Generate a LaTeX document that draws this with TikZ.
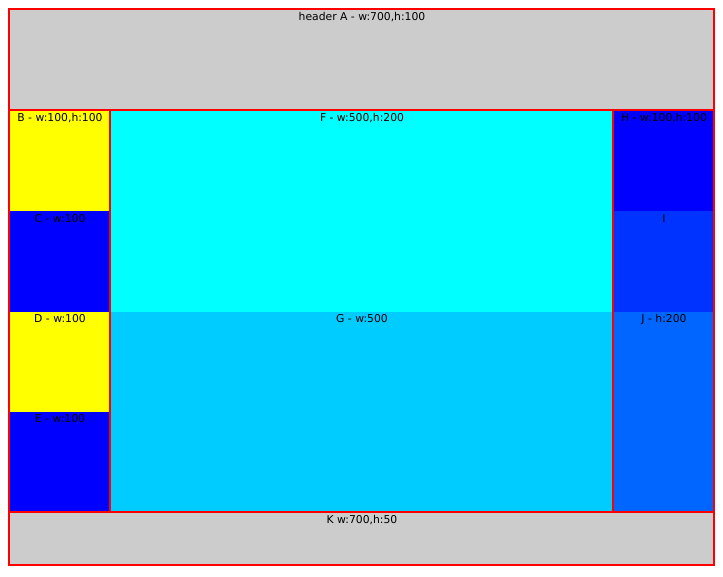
\documentclass[tikz,border=0pt]{standalone}
\usepackage{fontspec}
\setmainfont{DejaVu Sans}
\definecolor{gA}{HTML}{CCCCCC}
\definecolor{yel}{HTML}{FFFF00}
\definecolor{blu}{HTML}{0000FF}
\definecolor{cya}{HTML}{00FFFF}
\definecolor{gcol}{HTML}{00CCFF}
\definecolor{icol}{HTML}{0033FF}
\definecolor{jcol}{HTML}{0066FF}
\definecolor{bord}{HTML}{FF0000}
\begin{document}
\begin{tikzpicture}[x=1pt,y=-1pt,
  lbl/.style={anchor=north,inner sep=0pt,font=\fontsize{10.8}{12}\selectfont,text=black},
  outline/.style={draw=bord,line width=2pt}]
\useasboundingbox[fill=white] (0,0) rectangle (723,576);
% fills
\fill[gA] (9,9) rectangle (714,110);
\fill[yel] (9,110) rectangle (110,211);
\fill[blu] (9,211) rectangle (110,312);
\fill[yel] (9,312) rectangle (110,412);
\fill[blu] (9,412) rectangle (110,512);
\fill[cya] (110,110) rectangle (613,312);
\fill[gcol] (110,312) rectangle (613,512);
\fill[blu] (613,110) rectangle (714,211);
\fill[icol] (613,211) rectangle (714,312);
\fill[jcol] (613,312) rectangle (714,512);
\fill[gA] (9,512) rectangle (714,565);
% outlines
\draw[outline] (9,9) rectangle (714,110);
\draw[outline] (9,110) rectangle (110,512);
\draw[outline] (110,110) rectangle (613,512);
\draw[outline] (613,110) rectangle (714,512);
\draw[outline] (9,512) rectangle (714,565);
% labels
\node[lbl] (A) at (362,12) {header A - w:700,h:100};
\node[lbl] (B) at (60,113) {B - w:100,h:100};
\node[lbl] (C) at (60,214) {C - w:100};
\node[lbl] (D) at (60,314) {D - w:100};
\node[lbl] (E) at (60,414) {E - w:100};
\node[lbl] (F) at (362,113) {F - w:500,h:200};
\node[lbl] (G) at (362,314) {G - w:500};
\node[lbl] (H) at (664,113) {H - w:100,h:100};
\node[lbl] (I) at (664,214) {I};
\node[lbl] (J) at (664,314) {J - h:200};
\node[lbl] (K) at (362,515) {K w:700,h:50};
\end{tikzpicture}
\end{document}
